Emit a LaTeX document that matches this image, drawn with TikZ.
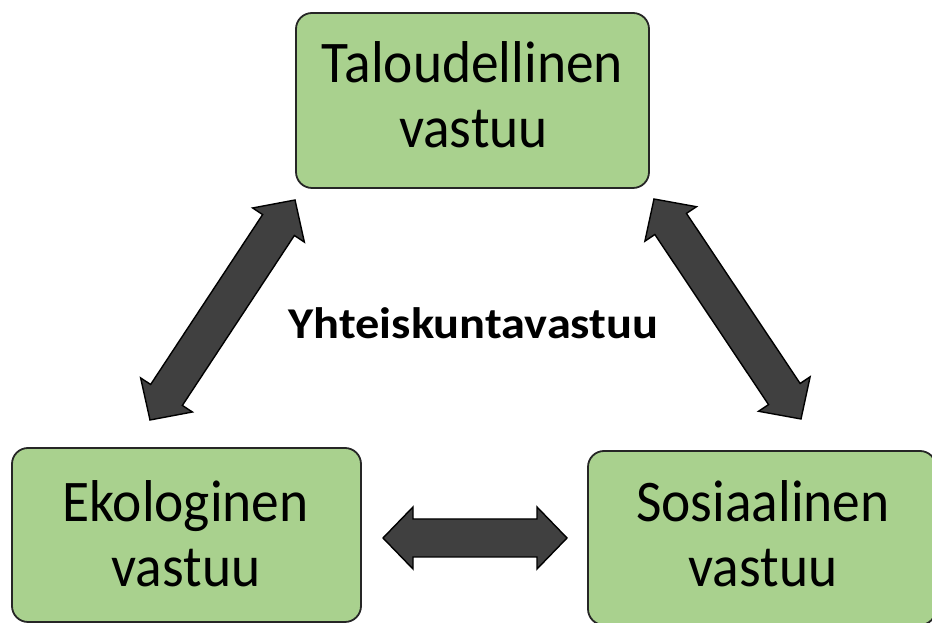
\documentclass[tikz,border=0pt]{standalone}
\usepackage{fontspec}
\setmainfont{Carlito}
\usetikzlibrary{calc}
\definecolor{boxgreen}{HTML}{A9D18E}
\definecolor{arrowgrey}{HTML}{404040}
\newcommand\narrowtext[1]{\scalebox{0.94}[1]{#1}}
\tikzset{
  greenbox/.style={draw=black!85, line width=1.8pt, fill=boxgreen, rounded corners=16pt, inner sep=0pt},
  boxtext/.style={anchor=base, inner sep=0pt, font=\fontsize{59}{65}\selectfont},
  blockarrow/.style={draw=black, line width=1.4pt, fill=arrowgrey},
  centertext/.style={anchor=base, font=\bfseries\fontsize{44}{50}\selectfont, inner sep=0pt}
}
\newcommand\dblarrow[2]{%
  \draw[blockarrow] (#1)
    -- ($(#1)!43.14pt!45.94:(#2)$) -- ($(#1)!35.51pt!32.35:(#2)$)
    -- ($(#2)!35.51pt!-32.35:(#1)$) -- ($(#2)!43.14pt!-45.94:(#1)$)
    -- (#2)
    -- ($(#2)!43.14pt!45.94:(#1)$) -- ($(#2)!35.51pt!32.35:(#1)$)
    -- ($(#1)!35.51pt!-32.35:(#2)$) -- ($(#1)!43.14pt!-45.94:(#2)$)
    -- cycle;}
\begin{document}
\begin{tikzpicture}[x=1pt,y=1pt]
  \useasboundingbox (0,0) rectangle (932,623);
  \clip (0,0) rectangle (932,623);
  \node[greenbox, minimum width=353pt, minimum height=175pt] (tal) at (472.5,522.5) {};
  \node[greenbox, minimum width=349pt, minimum height=174pt] (eko) at (186.5,88) {};
  \node[greenbox, minimum width=348pt, minimum height=174pt] (sos) at (762,85) {};
  \node[boxtext] (tal1) at (472.5,540) {\narrowtext{Taloudellinen}};
  \node[boxtext] (tal2) at (473.5,475) {\narrowtext{vastuu}};
  \node[boxtext] (eko1) at (185.5,101) {\narrowtext{Ekologinen}};
  \node[boxtext] (eko2) at (186,36) {\narrowtext{vastuu}};
  \node[boxtext] (sos1) at (763,101) {\narrowtext{Sosiaalinen}};
  \node[boxtext] (sos2) at (763,36) {\narrowtext{vastuu}};
  \node[centertext] (yht) at (473.5,284) {\scalebox{1.1}[1]{Yhteiskuntavastuu}};
  \coordinate (l1) at (295,423);
  \coordinate (l2) at (150,203);
  \coordinate (r1) at (654,424);
  \coordinate (r2) at (801,204);
  \coordinate (h1) at (383,85);
  \coordinate (h2) at (567,85);
  \dblarrow{l1}{l2}
  \dblarrow{r1}{r2}
  \dblarrow{h1}{h2}
\end{tikzpicture}
\end{document}
